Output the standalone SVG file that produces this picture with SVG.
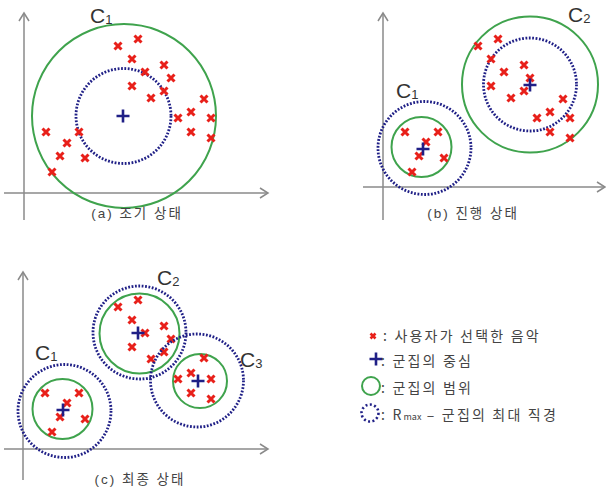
<svg xmlns="http://www.w3.org/2000/svg" xmlns:xlink="http://www.w3.org/1999/xlink" width="606" height="491" viewBox="0 0 606 491">
<style>
.axis{stroke:#8a8a8a;stroke-width:1.5;fill:none}
.rng{stroke:#3fa34d;stroke-width:2;fill:none}
.rmax{stroke:#1f1f86;stroke-width:2.8;fill:none;stroke-dasharray:1.8 1.6}
.lbl{font-family:"Liberation Sans",Arial,sans-serif;fill:#333;font-size:21px}
.sub{font-family:"Liberation Sans",Arial,sans-serif;fill:#333;font-size:13px}
.cap{font-family:"Liberation Sans","Noto Sans CJK KR",sans-serif;fill:#444;font-size:13.5px;letter-spacing:2px}
.leg{font-family:"Noto Sans CJK KR","Liberation Sans",sans-serif;fill:#444;font-size:14px;letter-spacing:2.2px}
</style>
<defs>
<g id="x"><path d="M-3.5,-3.5L3.5,3.5M3.5,-3.5L-3.5,3.5" stroke="#e8201a" stroke-width="3" fill="none"/></g>
<g id="p"><path d="M-6.5,0H6.5M0,-6.5V6.5" stroke="#1f1f86" stroke-width="2.6" fill="none"/></g>
</defs>
<g id="axes">
<line x1="24" y1="220" x2="24" y2="14" class="axis"/>
<path d="M19,21L24,13L29,21" class="axis"/>
<line x1="4" y1="193" x2="267" y2="193" class="axis"/>
<path d="M260,188L268,193L260,198" class="axis"/>
<line x1="383" y1="220" x2="383" y2="14" class="axis"/>
<path d="M378,21L383,13L388,21" class="axis"/>
<line x1="363" y1="187" x2="604" y2="187" class="axis"/>
<path d="M597,182L605,187L597,192" class="axis"/>
<line x1="23" y1="480" x2="23" y2="273" class="axis"/>
<path d="M18,280L23,272L28,280" class="axis"/>
<line x1="4" y1="449" x2="267" y2="449" class="axis"/>
<path d="M260,444L268,449L260,454" class="axis"/>
</g>
<g id="panel-a">
<g id="a-c1">
<circle cx="124" cy="116" r="92" class="rng"/>
<circle cx="123.5" cy="116" r="47.5" class="rmax"/>
<use xlink:href="#x" x="118" y="46"/><use xlink:href="#x" x="138" y="39"/><use xlink:href="#x" x="132" y="59"/>
<use xlink:href="#x" x="164" y="65"/><use xlink:href="#x" x="145" y="72"/><use xlink:href="#x" x="171" y="78"/>
<use xlink:href="#x" x="132" y="86"/><use xlink:href="#x" x="164" y="91"/><use xlink:href="#x" x="151" y="98"/>
<use xlink:href="#x" x="204" y="99"/><use xlink:href="#x" x="191" y="112"/><use xlink:href="#x" x="178" y="118"/>
<use xlink:href="#x" x="211" y="118"/><use xlink:href="#x" x="191" y="132"/><use xlink:href="#x" x="211" y="138"/>
<use xlink:href="#x" x="46" y="132"/><use xlink:href="#x" x="79" y="132"/><use xlink:href="#x" x="67" y="143"/>
<use xlink:href="#x" x="60" y="156"/><use xlink:href="#x" x="85" y="158"/><use xlink:href="#x" x="52" y="172"/>
<use xlink:href="#p" x="123" y="116"/>
<text x="90" y="23" class="lbl">C<tspan class="sub" dy="1">1</tspan></text>
</g>
<text x="137" y="218" class="cap" text-anchor="middle">(a) 조기 상태</text>
</g>
<g id="panel-b">
<g id="b-c1">
<circle cx="421.5" cy="147" r="30" class="rng"/>
<circle cx="424.5" cy="148" r="46.5" class="rmax"/>
<use xlink:href="#x" x="405" y="132"/><use xlink:href="#x" x="438" y="132"/><use xlink:href="#x" x="426" y="142"/>
<use xlink:href="#x" x="419" y="156"/><use xlink:href="#x" x="444" y="158"/><use xlink:href="#x" x="412" y="172"/>
<use xlink:href="#p" x="423" y="149"/>
<text x="396" y="98" class="lbl">C<tspan class="sub" dy="1">1</tspan></text>
</g>
<g id="b-c2">
<circle cx="530" cy="84.5" r="68" class="rng"/>
<circle cx="530" cy="84.5" r="46.5" class="rmax"/>
<use xlink:href="#x" x="478" y="46"/><use xlink:href="#x" x="498" y="39"/><use xlink:href="#x" x="491" y="59"/>
<use xlink:href="#x" x="524" y="65"/><use xlink:href="#x" x="504" y="72"/><use xlink:href="#x" x="530" y="78"/>
<use xlink:href="#x" x="491" y="86"/><use xlink:href="#x" x="524" y="91"/><use xlink:href="#x" x="511" y="98"/>
<use xlink:href="#x" x="563" y="99"/><use xlink:href="#x" x="550" y="112"/><use xlink:href="#x" x="537" y="118"/>
<use xlink:href="#x" x="570" y="118"/><use xlink:href="#x" x="550" y="132"/><use xlink:href="#x" x="570" y="138"/>
<use xlink:href="#p" x="530" y="85"/>
<text x="568" y="22" class="lbl">C<tspan class="sub" dy="1">2</tspan></text>
</g>
<text x="473" y="218" class="cap" text-anchor="middle">(b) 진행 상태</text>
</g>
<g id="panel-c">
<g id="c-c1">
<circle cx="62.5" cy="409" r="30" class="rng"/>
<circle cx="64.5" cy="411" r="46.5" class="rmax"/>
<use xlink:href="#x" x="45" y="393"/><use xlink:href="#x" x="79" y="393"/><use xlink:href="#x" x="67" y="403"/>
<use xlink:href="#x" x="60" y="417"/><use xlink:href="#x" x="85" y="419"/><use xlink:href="#x" x="52" y="432"/>
<use xlink:href="#p" x="63" y="410"/>
<text x="35" y="360" class="lbl">C<tspan class="sub" dy="1">1</tspan></text>
</g>
<g id="c-c2">
<circle cx="139.5" cy="333.5" r="40" class="rng"/>
<circle cx="139.5" cy="332.5" r="46.5" class="rmax"/>
<use xlink:href="#x" x="118" y="307"/><use xlink:href="#x" x="138" y="300"/><use xlink:href="#x" x="132" y="320"/>
<use xlink:href="#x" x="164" y="326"/><use xlink:href="#x" x="145" y="333"/><use xlink:href="#x" x="171" y="339"/>
<use xlink:href="#x" x="132" y="347"/><use xlink:href="#x" x="164" y="352"/><use xlink:href="#x" x="151" y="359"/>
<use xlink:href="#p" x="138" y="333"/>
<text x="157" y="285" class="lbl">C<tspan class="sub" dy="1">2</tspan></text>
</g>
<g id="c-c3">
<circle cx="200" cy="381" r="27" class="rng"/>
<circle cx="197" cy="380.5" r="46.5" class="rmax"/>
<use xlink:href="#x" x="204" y="358"/><use xlink:href="#x" x="191" y="373"/><use xlink:href="#x" x="178" y="379"/>
<use xlink:href="#x" x="211" y="379"/><use xlink:href="#x" x="191" y="393"/><use xlink:href="#x" x="211" y="399"/>
<use xlink:href="#p" x="198" y="381"/>
<text x="240" y="367" class="lbl">C<tspan class="sub" dy="1">3</tspan></text>
</g>
<text x="140" y="484" class="cap" text-anchor="middle">(c) 최종 상태</text>
</g>
<g id="legend">
<g id="leg-x"><path d="M370.5,333.5L375.5,338.5M375.5,333.5L370.5,338.5" stroke="#e8201a" stroke-width="2.6" fill="none"/>
<text x="383" y="341" class="leg">: 사용자가 선택한 음악</text></g>
<g id="leg-p"><use xlink:href="#p" x="376" y="359"/>
<text x="381" y="366" class="leg">: 군집의 중심</text></g>
<g id="leg-rng"><circle cx="371" cy="386" r="9" class="rng"/>
<text x="381" y="393" class="leg">: 군집의 범위</text></g>
<g id="leg-rmax"><circle cx="370" cy="413" r="8.5" stroke="#1f1f86" stroke-width="2.6" fill="none" stroke-dasharray="2 2.4"/>
<text x="381" y="420" class="leg">: R<tspan font-size="9" letter-spacing="0">max</tspan> – 군집의 최대 직경</text></g>
</g>
</svg>
